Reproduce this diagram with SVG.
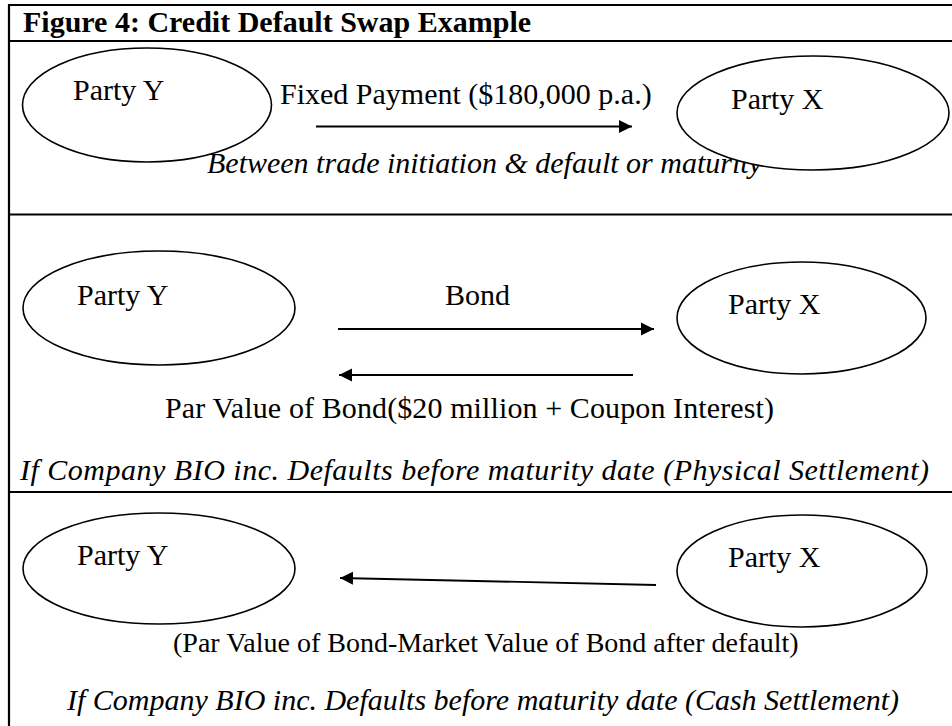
<svg xmlns="http://www.w3.org/2000/svg" width="952" height="726" viewBox="0 0 952 726">
  <defs>
    <marker id="arrowhead" markerUnits="userSpaceOnUse" markerWidth="14" markerHeight="14" refX="13" refY="7" orient="auto">
      <path d="M0,0.5 L13,7 L0,13.5 z" fill="#000"/>
    </marker>
  </defs>
  <style>
    .frame { stroke: #000; stroke-width: 2.2; fill: none; }
    .party { fill: #fff; stroke: #000; stroke-width: 1.6; }
    .flow { stroke: #000; stroke-width: 1.8; fill: none; marker-end: url(#arrowhead); }
    text { font-family: "Liberation Serif", "Times New Roman", serif; font-size: 30px; fill: #000; }
    .title { font-weight: bold; }
    .note { font-style: italic; }
    .small { font-size: 28px; }
  </style>

  <rect width="952" height="726" fill="#fff"/>

  <!-- table frame -->
  <g id="frame">
    <line class="frame" x1="9" y1="5" x2="952" y2="5"/>
    <line class="frame" x1="9" y1="4" x2="9" y2="726"/>
    <line class="frame" x1="9" y1="41" x2="952" y2="41"/>
    <line class="frame" x1="9" y1="214.5" x2="952" y2="214.5"/>
    <line class="frame" x1="9" y1="492" x2="952" y2="492"/>
  </g>

  <text class="title" x="23" y="32">Figure 4: Credit Default Swap Example</text>

  <!-- captions and flow labels -->
  <g id="labels">
    <text x="280" y="104">Fixed Payment ($180,000 p.a.)</text>
    <text class="note" x="207" y="173">Between trade initiation &amp; default or maturity</text>
    <text x="445" y="305">Bond</text>
    <text x="165" y="418" textLength="609" lengthAdjust="spacing">Par Value of Bond($20 million + Coupon Interest)</text>
    <text class="note" x="20" y="480" textLength="909" lengthAdjust="spacing">If Company BIO inc. Defaults before maturity date (Physical Settlement)</text>
    <text class="small" x="173" y="652">(Par Value of Bond-Market Value of Bond after default)</text>
    <text class="note" x="67" y="710">If Company BIO inc. Defaults before maturity date (Cash Settlement)</text>
  </g>

  <!-- connectors -->
  <g id="connectors">
    <line class="flow" x1="316" y1="126.5" x2="632" y2="126.5"/>
    <line class="flow" x1="338" y1="329" x2="654" y2="329"/>
    <line class="flow" x1="633" y1="375" x2="339" y2="375"/>
    <line class="flow" x1="656" y1="585" x2="340" y2="578"/>
  </g>

  <!-- parties: premium leg -->
  <g id="party-y-premium">
    <ellipse class="party" cx="147" cy="105" rx="124.5" ry="57"/>
    <text x="73" y="100">Party Y</text>
  </g>
  <g id="party-x-premium">
    <ellipse class="party" cx="813" cy="113" rx="136" ry="57"/>
    <text x="731" y="109">Party X</text>
  </g>

  <!-- parties: physical settlement -->
  <g id="party-y-physical">
    <ellipse class="party" cx="159" cy="308" rx="136" ry="57"/>
    <text x="77" y="305">Party Y</text>
  </g>
  <g id="party-x-physical">
    <ellipse class="party" cx="801.5" cy="318" rx="124.5" ry="56"/>
    <text x="728" y="314">Party X</text>
  </g>

  <!-- parties: cash settlement -->
  <g id="party-y-cash">
    <ellipse class="party" cx="159" cy="568.5" rx="136" ry="55.5"/>
    <text x="77" y="565">Party Y</text>
  </g>
  <g id="party-x-cash">
    <ellipse class="party" cx="802" cy="571" rx="125" ry="56"/>
    <text x="728" y="567">Party X</text>
  </g>
</svg>
